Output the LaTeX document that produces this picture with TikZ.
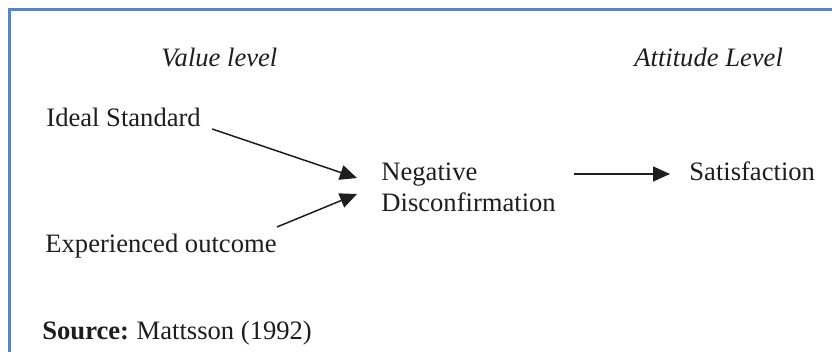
\documentclass[tikz,border=0pt]{standalone}
\usepackage{fontspec}
\setmainfont{Liberation Serif}
\usetikzlibrary{arrows.meta,calc}
\definecolor{frameblue}{RGB}{84,134,200}
\definecolor{ink}{RGB}{30,30,30}
\begin{document}
\begin{tikzpicture}[x=0.5pt,y=-0.5pt,
  lbl/.style={anchor=base west, inner sep=0pt, text=ink, font=\fontsize{13.3}{15.5}\selectfont},
  hdr/.style={lbl, font=\fontsize{13.3}{15.5}\selectfont\itshape},
  conn/.style={draw=ink, line width=0.75pt, -{Triangle[length=8.5pt,width=7.5pt]}},
  frameline/.style={draw=frameblue, line width=1.5pt}]
\useasboundingbox (0,0) rectangle (832,352);
\fill[white] (0,0) rectangle (832,352);
\coordinate (ftl) at (9,10);
\coordinate (ftr) at (832,10);
\coordinate (fbl) at (9,352);
\draw[frameline] (ftr) -- (ftl) -- (fbl);
\node[hdr] (vl) at (161,67) {Value level};
\node[hdr] (al) at (634,67) {Attitude Level};
\node[lbl] (ideal) at (46,127) {Ideal Standard};
\node[lbl] (exp) at (45,253) {Experienced outcome};
\node[lbl] (neg) at (381,181) {Negative};
\node[lbl] (disc) at (381,212) {Disconfirmation};
\node[lbl] (sat) at (689,181) {Satisfaction};
\node[lbl] (src) at (42,340) {\textbf{Source:}\hspace{-0.6pt} Mattsson (1992)};
\draw[conn] ($(ideal.base east)+(11,2)$) -- ($(neg.base west)+(-24,-3)$);
\draw[conn] ($(exp.base east)+(0,-26)$) -- ($(neg.base west)+(-24,13)$);
\draw[conn] ($(neg.base west)+(193,-7)$) -- ($(sat.base west)+(-19,-7)$);
\end{tikzpicture}
\end{document}
